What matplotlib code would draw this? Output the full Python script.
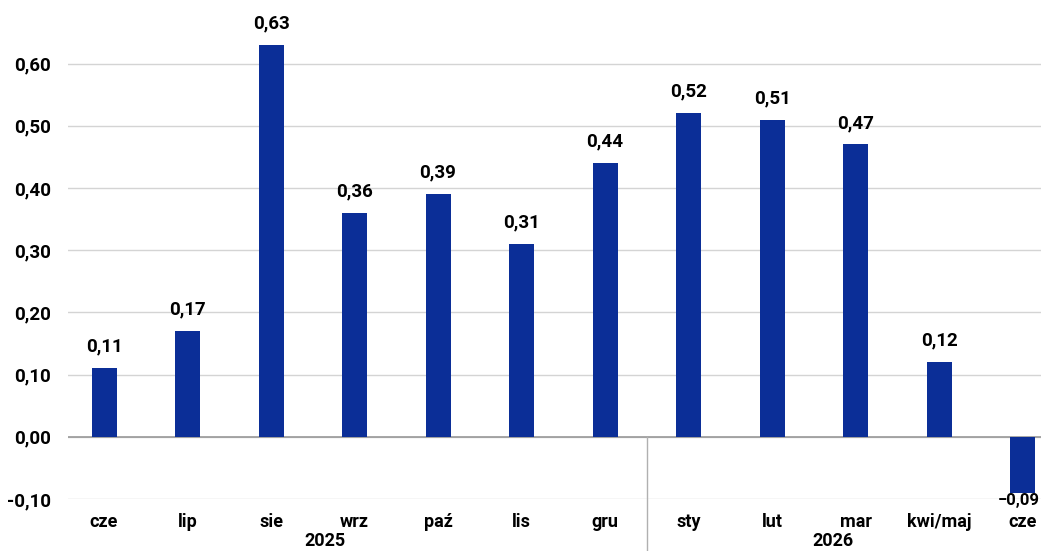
import matplotlib.pyplot as plt
import numpy as np

months = ['cze', 'lip', 'sie', 'wrz', 'paź', 'lis', 'gru',
          'sty', 'lut', 'mar', 'kwi/maj', 'cze']
values = [0.11, 0.17, 0.63, 0.36, 0.39, 0.31, 0.44,
          0.52, 0.51, 0.47, 0.12, -0.09]
years = ['2025', '2026']
yticks = [-0.10, 0.0, 0.10, 0.20, 0.30, 0.40, 0.50, 0.60]

bar_color = '#0b2e97'
plt.rcParams['font.family'] = ['Roboto', 'DejaVu Sans']
plt.rcParams['font.weight'] = 'bold'

fig = plt.figure(figsize=(10.41, 5.51), dpi=100)
# axes span from x=68px to past the right edge, y from the -0.10 line to the top
ax = fig.add_axes([68 / 1041, (551 - 499) / 551, 1.0, 499 / 551])

x = np.arange(len(months))
step = 83.5  # px per category
ax.set_xlim(-(104 - 68) / step, -(104 - 68) / step + 1041 / step)
ax.set_ylim(-0.10, -0.10 + 499 / 622)

ax.bar(x, values, width=25 / step, color=bar_color, zorder=3)

for xi, v in zip(x, values):
    txt = f'{v:.2f}'.replace('.', ',').replace('-', '\u2212')
    if v >= 0:
        ax.annotate(txt, (xi, v), xytext=(0, 9), textcoords='offset points',
                    ha='center', va='bottom', fontsize=13.5, fontweight='bold')
    else:
        # keep the negative label inside the figure, just under the bar
        ax.annotate(txt, (xi, v), xytext=(-3, 0), textcoords='offset points',
                    ha='center', va='top', fontsize=12, fontweight='bold')

ax.set_yticks(yticks)
ax.set_yticklabels([f'{t:.2f}'.replace('.', ',') for t in yticks],
                   fontsize=13.5, fontweight='bold')
ax.grid(axis='y', color='#d4d4d4', linewidth=1, zorder=0)
ax.axhline(0, color='#999999', linewidth=1.2, zorder=2)
ax.tick_params(axis='y', length=0, pad=12)

ax.set_xticks(x)
ax.set_xticklabels(months, fontsize=13, fontweight='bold')
ax.tick_params(axis='x', length=0, pad=10)

for s in ax.spines.values():
    s.set_visible(False)

# year separator between gru and sty
ax.plot([6.5, 6.5], [0, -0.2], color='#b0b0b0', linewidth=1,
        clip_on=False, zorder=2)

ax.text(2.65, -0.168, years[0], ha='center', va='center',
        fontsize=13, fontweight='bold', clip_on=False)
ax.text(8.73, -0.168, years[1], ha='center', va='center',
        fontsize=13, fontweight='bold', clip_on=False)

fig.savefig('out.png', dpi=100)
